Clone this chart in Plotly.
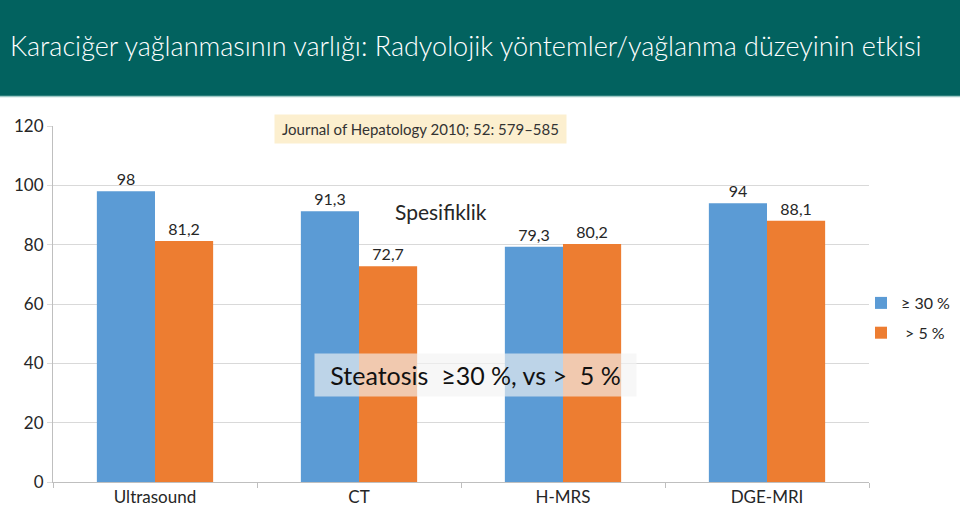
import plotly.graph_objects as go

categories = ["Ultrasound", "CT", "H-MRS", "DGE-MRI"]
series_30 = [98, 91.3, 79.3, 94]
series_5 = [81.2, 72.7, 80.2, 88.1]
series_names = ["\u2265 30 %", " > 5 %"]
y_ticks = [0, 20, 40, 60, 80, 100, 120]

FONT = "Lato"
BLUE = "#5B9BD5"
ORANGE = "#ED7D31"

def fmt(v):
    s = ("%g" % v)
    return s.replace(".", ",")

fig = go.Figure()
for i, (name, vals, col) in enumerate([(series_names[0], series_30, BLUE), (series_names[1], series_5, ORANGE)]):
    fig.add_trace(go.Bar(
        x=categories, y=vals, name=name, legendgroup="g%d" % i,
        marker=dict(color=col, line=dict(width=0)),
        text=[fmt(v) for v in vals], textposition="outside", cliponaxis=False,
        textfont=dict(family=FONT, size=16, color="#262626"),
    ))

L, R, T, B = 53, 91, 126, 30
W, H = 960, 512
pw, ph = W - L - R, H - T - B

def px(x):
    return (x - L) / pw

def py(y):
    return (H - B - y) / ph

fig.update_layout(
    width=W, height=H,
    margin=dict(l=L, r=R, t=T, b=B, autoexpand=False),
    paper_bgcolor="white", plot_bgcolor="white",
    barmode="group", bargap=0.43, bargroupgap=0,
    font=dict(family=FONT, size=16, color="#262626"),
    showlegend=True,
    legend=dict(x=px(861), y=py(286), xanchor="left", yanchor="top",
                font=dict(family=FONT, size=16, color="#262626"),
                itemwidth=30, tracegroupgap=6, bgcolor="rgba(0,0,0,0)"),
    xaxis=dict(showline=True, linecolor="#bfbfbf", linewidth=1, ticks="outside",
               tickson="boundaries", ticklen=5, tickcolor="#bfbfbf",
               tickfont=dict(family=FONT, size=17, color="#262626"), showgrid=False),
    yaxis=dict(range=[0, 120], tickvals=y_ticks, showgrid=True, gridcolor="#d9d9d9",
               showline=True, linecolor="#bfbfbf", ticks="outside", ticklen=5,
               tickcolor="#d9d9d9", zeroline=False,
               tickfont=dict(family=FONT, size=17, color="#262626")),
    shapes=[
        dict(type="rect", xref="paper", yref="paper", x0=px(0), x1=px(960), y0=py(96), y1=py(0),
             fillcolor="#02625f", line=dict(width=0), layer="above"),
        dict(type="line", xref="paper", yref="paper", x0=px(0), x1=px(960), y0=py(96.5), y1=py(96.5),
             line=dict(color="#9fc9c6", width=1.5), layer="above"),
    ],
    annotations=[
        dict(xref="paper", yref="paper", x=px(8), y=py(46), xanchor="left", yanchor="middle",
             text="Karaciğer yağlanmasının varlığı: Radyolojik yöntemler/yağlanma düzeyinin etkisi",
             showarrow=False, font=dict(family=FONT, size=27, color="white", weight=300)),
        dict(xref="paper", yref="paper", x=px(420), y=py(129), xanchor="center", yanchor="middle",
             text="Journal of Hepatology 2010; 52: 579\u2013585", showarrow=False,
             bgcolor="#fcefcf", width=287, height=24, borderpad=2,
             font=dict(family=FONT, size=15, color="#333333")),
        dict(xref="paper", yref="paper", x=px(441), y=py(211), xanchor="center", yanchor="middle",
             text="Spesifiklik", showarrow=False,
             font=dict(family=FONT, size=21, color="#262626")),
        dict(xref="paper", yref="paper", x=px(475.5), y=py(375), xanchor="center", yanchor="middle",
             text="Steatosis  \u226530 %, vs >  5 %", showarrow=False,
             bgcolor="rgba(242,242,242,0.65)", width=317, height=38, borderpad=2,
             font=dict(family=FONT, size=25, color="#111111")),
    ],
)

fig.write_html("out.html")
